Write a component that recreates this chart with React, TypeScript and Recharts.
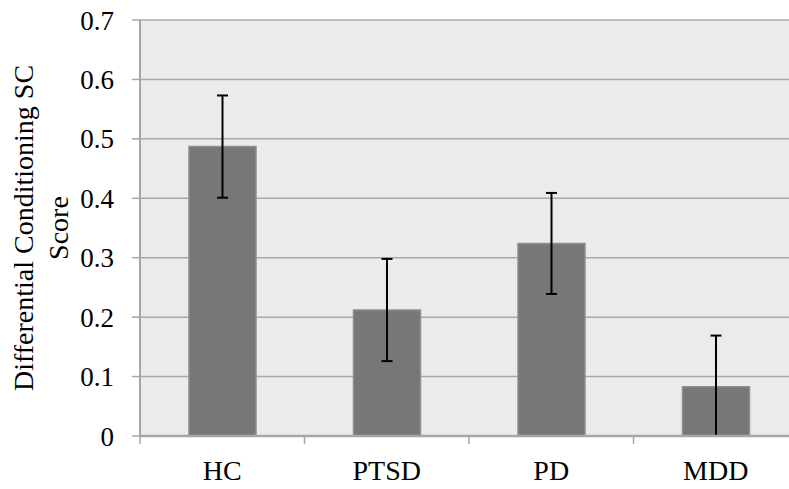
import React from 'react';
import { BarChart, Bar, XAxis, YAxis, CartesianGrid, ErrorBar, Label } from 'recharts';

const categories = ['HC', 'PTSD', 'PD', 'MDD'];
const scores = [0.487, 0.212, 0.324, 0.083];
const errLow = [0.086, 0.086, 0.085, 0.083];
const errHigh = [0.086, 0.086, 0.085, 0.086];
const yTicks = [0, 0.1, 0.2, 0.3, 0.4, 0.5, 0.6, 0.7];
const yLabelLines = ['Differential Conditioning SC', 'Score'];

const data = categories.map((name, i) => ({ name, score: scores[i], err: [errLow[i], errHigh[i]] }));

const FONT = '"Liberation Serif", "Times New Roman", serif';
const AXIS = '#a6a6a6';

const XTick = (props: any) => {
  const { x, y, payload } = props;
  const off = payload && payload.offset ? payload.offset : 0;
  return (
    <g>
      <line x1={x - off} y1={y - 8} x2={x - off} y2={y} stroke={AXIS} strokeWidth={1.5} />
      <text x={x} y={y + 36} textAnchor="middle" fontFamily={FONT} fontSize={28} fill="#000">
        {payload.value}
      </text>
    </g>
  );
};

const YLabel = (props: any) => {
  const vb = props.viewBox || { x: 0, y: 20, width: 140, height: 416 };
  const cx = vb.x + 33;
  const cy = vb.y + vb.height / 2;
  return (
    <text
      x={cx}
      y={cy}
      transform={`rotate(-90, ${cx}, ${cy})`}
      textAnchor="middle"
      fontFamily={FONT}
      fontSize={28}
      fill="#000"
    >
      {yLabelLines.map((t, i) => (
        <tspan key={i} x={cx} dy={i === 0 ? 0 : 35}>
          {t}
        </tspan>
      ))}
    </text>
  );
};

export default function App() {
  return (
    <div
      style={{
        position: 'fixed',
        left: 0,
        top: 0,
        width: 789,
        height: 489,
        overflow: 'hidden',
        background: '#fff',
      }}
    >
      <BarChart
        width={810}
        height={489}
        data={data}
        margin={{ top: 20, right: 12, bottom: 3, left: 0 }}
      >
        <CartesianGrid vertical={false} stroke="#a9a9a9" strokeWidth={1.5} fill="#ebebeb" />
        <Bar dataKey="score" barSize={67} fill="#777777" stroke="#8e8e8e" strokeWidth={1.5} isAnimationActive={false}>
          <ErrorBar dataKey="err" width={5.5} strokeWidth={2} stroke="#000" isAnimationActive={false} />
        </Bar>
        <YAxis
          width={140}
          domain={[0, 0.7]}
          ticks={yTicks}
          axisLine={{ stroke: AXIS, strokeWidth: 2 }}
          tickLine={{ stroke: AXIS, strokeWidth: 1.5 }}
          tickSize={8}
          tickMargin={18}
          tick={{ fontFamily: FONT, fontSize: 27, fill: '#000' }}
        >
          <Label content={<YLabel />} />
        </YAxis>
        <XAxis
          dataKey="name"
          height={50}
          interval={0}
          axisLine={{ stroke: AXIS, strokeWidth: 2.5 }}
          tickLine={false}
          tickSize={8}
          tickMargin={0}
          tick={<XTick />}
        />
      </BarChart>
    </div>
  );
}
